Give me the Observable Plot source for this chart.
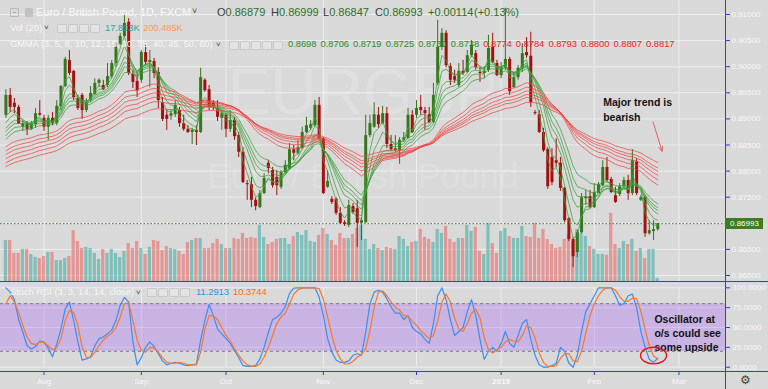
<!DOCTYPE html>
<html>
<head>
<meta charset="utf-8">
<script src="https://cdn.jsdelivr.net/npm/d3@7"></script>
<script src="https://cdn.jsdelivr.net/npm/@observablehq/plot@0.6"></script>
<style>
html,body{margin:0;padding:0;background:#d9d9d9;}
#chart{position:relative;width:768px;height:389px;background:#d9d9d9;overflow:hidden;font-family:"Liberation Sans",Arial,sans-serif;}
.t{position:absolute;white-space:nowrap;line-height:1;}
.ic{position:absolute;width:9px;height:9px;background:#e3e3e3;border:1px solid #c9c9c9;box-sizing:border-box;border-radius:1px;}
.sep{position:absolute;background:#3636ee;}
</style>
</head>
<body>
<div id="chart"></div>
<script>
// ---------------- DATA (daily bars, index 0 = 1 Aug 2018) ----------------
const startIndex = -9;
const open = [
0.8907,0.8945,0.8930,0.8922,0.8884,0.8891,0.8880,0.8889,0.8910,
0.8901,0.8884,0.8901,0.8891,0.8924,0.8962,0.9012,0.8991,0.8939,0.8945,
0.8916,0.8935,0.8947,0.8968,0.8964,0.8964,0.8981,0.9006,0.9043,0.9058,
0.9085,0.8985,0.8972,0.8974,0.9027,0.9008,0.9010,0.8989,0.8931,0.8907,
0.8905,0.8908,0.8916,0.8891,0.8880,0.8874,0.8878,0.8874,0.8974,0.8956,
0.8930,0.8920,0.8901,0.8907,0.8880,0.8897,0.8868,0.8836,0.8776,0.8774,
0.8744,0.8730,0.8757,0.8815,0.8801,0.8788,0.8769,0.8797,0.8805,0.8841,
0.8834,0.8843,0.8874,0.8882,0.8887,0.8926,0.8862,0.8769,0.8746,0.8746,
0.8719,0.8701,0.8696,0.8732,0.8728,0.8700,0.8701,0.8868,0.8884,0.8907,
0.8891,0.8910,0.8851,0.8839,0.8839,0.8859,0.8862,0.8907,0.8907,0.8922,
0.8916,0.8908,0.8893,0.8968,0.9037,0.9064,0.9000,0.8981,0.8964,0.8991,
0.8989,0.9021,0.9025,0.8989,0.8987,0.8993,0.9037,0.9006,0.8983,0.8997,
0.9014,0.8960,0.8979,0.8997,0.9027,0.9020,0.8912,0.8908,0.8874,0.8841,
0.8826,0.8820,0.8815,0.8767,0.8709,0.8669,0.8644,0.8682,0.8747,0.8751,
0.8730,0.8757,0.8772,0.8807,0.8784,0.8753,0.8755,0.8770,0.8782,0.8757,
0.8818,0.8744,0.8749,0.8680,0.8684,0.86879];
const high = [
0.8956,0.8958,0.8939,0.8926,0.8897,0.8895,0.8895,0.8920,0.8935,
0.8907,0.8907,0.8912,0.8935,0.8964,0.9018,0.9031,0.8993,0.8945,0.8949,
0.8939,0.8962,0.8977,0.8977,0.8974,0.9006,0.9012,0.9044,0.9064,0.9098,
0.9092,0.8993,0.8987,0.9031,0.9041,0.9031,0.9016,0.8998,0.8941,0.8916,
0.8916,0.8935,0.8922,0.8907,0.8887,0.8882,0.8887,0.8997,0.8977,0.8964,
0.8935,0.8935,0.8916,0.8910,0.8916,0.8903,0.8874,0.8845,0.8782,0.8788,
0.8749,0.8763,0.8795,0.8820,0.8807,0.8801,0.8801,0.8820,0.8853,0.8849,
0.8859,0.8884,0.8903,0.8897,0.8935,0.8941,0.8864,0.8801,0.8751,0.8749,
0.8730,0.8705,0.8744,0.8738,0.8744,0.8711,0.8907,0.8907,0.8931,0.8922,
0.8924,0.8922,0.8868,0.8868,0.8864,0.8874,0.8920,0.8916,0.8935,0.8945,
0.8922,0.8922,0.8968,0.9089,0.9073,0.9069,0.9006,0.8993,0.9006,0.9012,
0.9031,0.9050,0.9031,0.8998,0.9000,0.9060,0.9064,0.9012,0.9008,0.9112,
0.9018,0.8989,0.9002,0.9044,0.9056,0.9066,0.8916,0.8916,0.8882,0.8845,
0.8843,0.8862,0.8826,0.8769,0.8711,0.8673,0.8686,0.8757,0.8763,0.8763,
0.8776,0.8778,0.8820,0.8826,0.8788,0.8769,0.8776,0.8788,0.8792,0.8841,
0.8824,0.8753,0.8753,0.8705,0.8705,0.86999];
const low = [
0.8901,0.8912,0.8910,0.8889,0.8876,0.8868,0.8878,0.8882,0.8905,
0.8876,0.8859,0.8887,0.8887,0.8916,0.8960,0.8983,0.8935,0.8916,0.8899,
0.8912,0.8931,0.8945,0.8960,0.8954,0.8960,0.8977,0.8998,0.9041,0.9056,
0.8983,0.8958,0.8941,0.8968,0.9002,0.8960,0.8977,0.8920,0.8895,0.8878,
0.8897,0.8903,0.8884,0.8876,0.8872,0.8851,0.8849,0.8872,0.8951,0.8916,
0.8916,0.8895,0.8878,0.8864,0.8874,0.8859,0.8826,0.8776,0.8744,0.8730,
0.8724,0.8728,0.8755,0.8795,0.8767,0.8753,0.8765,0.8795,0.8801,0.8820,
0.8830,0.8841,0.8872,0.8878,0.8884,0.8859,0.8755,0.8767,0.8736,0.8715,
0.8698,0.8694,0.8692,0.8717,0.8654,0.8667,0.8700,0.8864,0.8882,0.8882,
0.8889,0.8843,0.8838,0.8836,0.8813,0.8855,0.8861,0.8872,0.8901,0.8907,
0.8878,0.8891,0.8891,0.8964,0.9031,0.8998,0.8964,0.8968,0.8960,0.8983,
0.8987,0.9018,0.8993,0.8970,0.8977,0.8989,0.9006,0.8981,0.8977,0.8993,
0.8945,0.8958,0.8974,0.8989,0.9016,0.8922,0.8907,0.8872,0.8836,0.8765,
0.8772,0.8807,0.8761,0.8701,0.8665,0.8615,0.8634,0.8680,0.8734,0.8728,
0.8728,0.8757,0.8770,0.8778,0.8757,0.8738,0.8751,0.8767,0.8744,0.8753,
0.8753,0.8742,0.8673,0.8677,0.8667,0.86847];
const close = [
0.8945,0.8922,0.8922,0.8891,0.8891,0.8880,0.8891,0.8910,0.8907,
0.8884,0.8901,0.8891,0.8924,0.8962,0.9014,0.8987,0.8941,0.8920,0.8916,
0.8931,0.8949,0.8968,0.8974,0.8956,0.8981,0.9006,0.9037,0.9058,0.9083,
0.8987,0.8970,0.8954,0.9027,0.9008,0.9012,0.8987,0.8935,0.8899,0.8899,
0.8910,0.8926,0.8891,0.8880,0.8874,0.8878,0.8874,0.8979,0.8954,0.8922,
0.8922,0.8903,0.8910,0.8880,0.8897,0.8866,0.8836,0.8778,0.8774,0.8744,
0.8732,0.8757,0.8786,0.8805,0.8772,0.8772,0.8797,0.8811,0.8841,0.8834,
0.8845,0.8874,0.8887,0.8889,0.8926,0.8862,0.8757,0.8780,0.8740,0.8719,
0.8700,0.8698,0.8734,0.8721,0.8700,0.8705,0.8868,0.8891,0.8908,0.8889,
0.8910,0.8851,0.8841,0.8843,0.8859,0.8864,0.8907,0.8874,0.8920,0.8916,
0.8910,0.8893,0.8945,0.9037,0.9064,0.9002,0.8974,0.8974,0.8991,0.8987,
0.9021,0.9041,0.8998,0.8987,0.8991,0.9035,0.9008,0.8983,0.8998,0.9014,
0.8952,0.8979,0.8997,0.9025,0.9021,0.8931,0.8910,0.8874,0.8839,0.8770,
0.8778,0.8815,0.8767,0.8705,0.8669,0.8636,0.8682,0.8749,0.8751,0.8730,
0.8759,0.8774,0.8807,0.8782,0.8759,0.8740,0.8770,0.8782,0.8757,0.8820,
0.8757,0.8749,0.8680,0.8686,0.8688,0.86993];
// volume in thousands
const volume = [
189,189,131,131,149,149,126,113,108,
117,135,135,99,99,108,117,234,185,153,
158,153,131,104,149,131,149,131,113,140,
176,153,185,153,126,158,189,185,144,162,
153,149,140,126,180,189,198,198,153,153,
176,194,171,153,153,198,194,221,198,203,
198,257,203,171,180,194,198,198,171,207,
225,212,234,185,180,212,243,216,189,167,
221,198,198,216,243,257,194,149,171,153,
144,158,153,149,207,194,162,180,185,239,
203,194,180,239,221,252,194,180,198,198,
257,230,248,140,126,266,176,131,230,243,
207,198,198,252,207,203,266,198,239,194,
171,153,158,194,216,185,239,221,207,162,
149,126,126,122,311,171,153,185,171,194,
140,153,108,149,149,17.893];
const stochK = [
100,94.5,85,60,44,27,23,26,33,
31.5,24,13,29,48,73.5,82,59,31.5,9,
10.5,13,27,36,38,42,47,59,78,88,
82,31.5,3,12,25,32,26,17,8,3,
5,6,5,3,2,3,4,34,59,79,
65,48,42,36,30,21,12,2,1,1,
2,10.5,25,44,60,63,68,76.5,93,99.6,
100,100,100,100,100,88,65,36,19,9,
6,6,8,15,17,15,44,80,94.5,97,
94.5,86,75.6,68,68,60,65,50,45,42,
35,30,55,90,100,85,60,40,45,50,
70,85,65,35,10,20,25,20,30,45,
30,25,40,55,60,35,15,3,0,0,
2,5,25,20,5,0,15,45,70,80,
90,100,100,100,100,90,78,80,90,92,
75,45,25,10,6,11.2913];
const stochD = [
80,90,82,69,52.5,38,30,28.5,31.5,
31.5,27,22,25,36,59,71,69,52.5,25,
12.6,12,19,27,34,39,43,50,63,80,
81,59,34,21,19,25,24,19,12,6,
5,5,6,5,3,3,3,19,48,65,
65,60,50,40,33,23,15,8,3,1,
1,4,12.6,25,40,55,63,68,80,92,
97.5,99.6,100,100,100,99,86,63,40,21,
10.5,4,4,7.5,12.6,16,23,46,75.6,94.5,
96,90,82,75.6,72,65,64,58,53,46,
41,36,40,58,82,92,82,62,48,45,
55,68,73,62,37,22,18,22,25,32,
35,33,32,40,52,50,37,18,6,1,
1,2,11,17,17,8,7,20,43,65,
80,90,97,100,100,97,89,83,83,87,
86,71,48,27,14,10.3744];
const gmmaPeriods = [3,5,8,10,12,15,30,35,40,45,50,60];
const gmmaStart = [0.8905,0.8893,0.8882,0.8876,0.8868,0.8861,0.8847,0.8839,0.8832,0.8824,0.8816,0.8809];
const gmmaLegend = ["0.8698","0.8706","0.8719","0.8725","0.8730","0.8738","0.8774","0.8784","0.8793","0.8800","0.8807","0.8817"];
const priceTicks = [0.86,0.865,0.87,0.875,0.88,0.885,0.89,0.895,0.90,0.905,0.91];
const stochTicks = [0,25,50,75,100];
const stochBands = [20,80];
const monthIdx = [0,23,43,66,88,108,130,150];
const monthLabels = ["Aug","Sep","Oct","Nov","Dec","2019","Feb","Mar"];
const header = {title:"Euro / British Pound, 1D, FXCM", o:"0.86879", h:"0.86999", l:"0.86847", c:"0.86993", chg:"+0.00114", pct:"(+0.13%)"};
const volLegend = ["17.893K","200.485K"];
const stochLegend = ["11.2913","10.3744"];
const notes = {
  trend:{x:132.1, y:0.8919, text:"Major trend is\nbearish"},
  arrow:{x1:143.9, y1:0.8894, x2:146.0, y2:0.8838},
  osc:{x:144.2, y:43.7, text:"Oscillator at\no/s could see\nsome upside"},
  ring:{x:144.0, y:14.7}
};

// ---------------- BUILD ----------------
const bars = open.map((o,k)=>({i:startIndex+k, open:o, high:high[k], low:low[k], close:close[k], vol:volume[k], k:stochK[k], d:stochD[k]}));
const gmma = [];
gmmaPeriods.forEach((n,j)=>{
  let e = gmmaStart[j]; const a = 2/(n+1);
  bars.forEach((b,k)=>{ if(k>0) e = e + a*(b.close-e); gmma.push({i:b.i, v:e, n}); });
});
const FONT = '"Liberation Sans", Arial, sans-serif';
const W = 768, PR = 43;
const xDomain = [-10.28, 161.0];
const yDomain = [0.858659, 0.912682];
const GRID = "#ededed", BLUE = "#3636ee", AXT = "#f8f8f8";
const UP = "#38761d", DN = "#a50f0f";
const AXF = 8;
const candleColor = d => d.close >= d.open ? UP : DN;
const sty = top => ({position:"absolute", left:"0px", top:top+"px", background:"transparent", overflow:"visible", fontFamily:FONT});
const chart = document.getElementById("chart");

const bgPlot = Plot.plot({
  width:W, height:282, marginLeft:0, marginRight:PR, marginTop:0, marginBottom:0,
  x:{domain:xDomain, axis:null}, y:{domain:yDomain, axis:null}, style:sty(0),
  marks:[
    Plot.ruleY(priceTicks, {stroke:GRID}),
    Plot.ruleX(monthIdx, {stroke:GRID}),
    Plot.text(["EURGBP"], {text:d=>d, frameAnchor:"top", dy:93, lineAnchor:"middle", fontSize:64, fill:"#ffffff", fillOpacity:0.16}),
    Plot.text(["Euro / British Pound"], {text:d=>d, frameAnchor:"top", dy:176, lineAnchor:"middle", fontSize:35, fill:"#ffffff", fillOpacity:0.16}),
    Plot.axisY({anchor:"right", ticks:priceTicks, tickSize:4, tickFormat:()=>"", color:BLUE}),
    Plot.axisY({anchor:"right", ticks:priceTicks, tickSize:0, tickPadding:6, tickFormat:d3.format(".5f"), color:AXT, fontSize:AXF})
  ]
});
chart.appendChild(bgPlot);

const volPlot = Plot.plot({
  width:W, height:282, marginLeft:0, marginRight:PR, marginTop:0, marginBottom:0,
  x:{domain:xDomain, axis:null}, y:{domain:[0,1269], axis:null}, color:{type:"identity"}, style:sty(0),
  marks:[
    Plot.rect(bars, {x1:d=>d.i-0.38, x2:d=>d.i+0.38, y1:0, y2:"vol", fill:d=>d.close>=d.open ? "rgba(38,166,154,0.5)" : "rgba(239,83,80,0.5)"})
  ]
});
chart.appendChild(volPlot);

const ellipse = {draw(ctx){ const rx=13, ry=8.3, k=0.5523;
  ctx.moveTo(rx,0); ctx.bezierCurveTo(rx,ry*k,rx*k,ry,0,ry); ctx.bezierCurveTo(-rx*k,ry,-rx,ry*k,-rx,0);
  ctx.bezierCurveTo(-rx,-ry*k,-rx*k,-ry,0,-ry); ctx.bezierCurveTo(rx*k,-ry,rx,-ry*k,rx,0); ctx.closePath(); }};

const pricePlot = Plot.plot({
  width:W, height:282, marginLeft:0, marginRight:PR, marginTop:0, marginBottom:0,
  x:{domain:xDomain, axis:null}, y:{domain:yDomain, axis:null}, color:{type:"identity"}, style:sty(0),
  marks:[
    Plot.ruleY([close[close.length-1]], {stroke:"#3d7d22", strokeDasharray:"1.5,2"}),
    Plot.ruleX(bars, {x:"i", y1:"low", y2:"high", stroke:candleColor, strokeWidth:1}),
    Plot.ruleX(bars, {x:"i", y1:"open", y2:"close", stroke:candleColor, strokeWidth:3}),
    Plot.line(gmma, {x:"i", y:"v", z:"n", stroke:d=>d.n<=15 ? "rgba(60,160,60,0.75)" : "rgba(240,70,70,0.75)", strokeWidth:1}),
    Plot.text([notes.trend], {x:"x", y:"y", text:"text", textAnchor:"start", lineAnchor:"middle", lineHeight:1.45, fontSize:10.5, fontWeight:"bold", fill:"#111"}),
    Plot.arrow([notes.arrow], {x1:"x1", y1:"y1", x2:"x2", y2:"y2", stroke:"#ee5c5c", strokeWidth:1, headLength:7, headAngle:45})
  ]
});
chart.appendChild(pricePlot);

const stochPlot = Plot.plot({
  width:W, height:89, marginLeft:0, marginRight:PR, marginTop:5.3, marginBottom:4.3,
  x:{domain:xDomain, axis:null}, y:{domain:[0,100], axis:null}, style:sty(282),
  marks:[
    Plot.ruleY(stochTicks, {stroke:GRID}),
    Plot.ruleX(monthIdx, {stroke:GRID}),
    Plot.rect([stochBands], {y1:d=>d[0], y2:d=>d[1], fill:"#9a4dff", fillOpacity:0.27}),
    Plot.ruleY(stochBands, {stroke:"#7c7c7c", strokeDasharray:"3,3"}),
    Plot.line(bars, {x:"i", y:"k", stroke:"#3d8ef0", strokeWidth:1.2}),
    Plot.line(bars, {x:"i", y:"d", stroke:"#f5792a", strokeWidth:1.2}),
    Plot.axisY({anchor:"right", ticks:stochTicks, tickSize:4, tickFormat:()=>"", color:BLUE}),
    Plot.axisY({anchor:"right", ticks:stochTicks, tickSize:0, tickPadding:7, tickFormat:d3.format(".4f"), color:AXT, fontSize:AXF}),
    Plot.text([notes.osc], {x:"x", y:"y", text:"text", textAnchor:"start", lineAnchor:"middle", lineHeight:1.3, fontSize:10.5, fontWeight:"bold", fill:"#111"}),
    Plot.dot([notes.ring], {x:"x", y:"y", symbol:ellipse, stroke:"#e01414", fill:"none", strokeWidth:1.3})
  ]
});
chart.appendChild(stochPlot);

const months = monthIdx.map((i,k)=>({i, label:monthLabels[k]}));
const axisPlot = Plot.plot({
  width:W, height:18, marginLeft:0, marginRight:PR, marginTop:0, marginBottom:0,
  x:{domain:xDomain, axis:null}, style:sty(371),
  marks:[
    Plot.ruleX(monthIdx, {stroke:BLUE, insetBottom:14}),
    Plot.text(months.filter(d=>d.label!=="2019"), {x:"i", text:"label", frameAnchor:"middle", dy:1, fontSize:AXF, fill:AXT}),
    Plot.text(months.filter(d=>d.label==="2019"), {x:"i", text:"label", frameAnchor:"middle", dy:1, fontSize:AXF, fontWeight:"bold", fill:AXT})
  ]
});
chart.appendChild(axisPlot);

// ---------------- HTML overlays ----------------
function txt(x, cy, s, size, color, extra){
  const d = document.createElement("div"); d.className="t"; d.textContent=s;
  d.style.left=x+"px"; d.style.top=(cy-size*0.5)+"px"; d.style.fontSize=size+"px"; d.style.color=color;
  if(extra) Object.assign(d.style, extra); chart.appendChild(d); return d;
}
function box(x, y, w, h, css){ const d=document.createElement("div"); d.className=css||"ic"; d.style.left=x+"px"; d.style.top=y+"px"; if(w) d.style.width=w+"px"; if(h) d.style.height=h+"px"; chart.appendChild(d); return d;}
// separators
box(725,0,1,389,"sep"); box(0,281,768,1,"sep"); box(0,371,768,1,"sep");
// last price label
const ly = pricePlot.scale("y").apply(close[close.length-1]);
const lab = document.createElement("div");
Object.assign(lab.style,{position:"absolute", left:"725px", top:(ly-5.5)+"px", width:"38px", height:"11px", background:"#3d7d1d", color:"#fff", fontSize:AXF+"px", lineHeight:"11px", paddingLeft:"5px", boxSizing:"border-box"});
lab.textContent = header.c; chart.appendChild(lab);
// header line 1
const i1 = box(10,8,9,9); i1.style.background="transparent"; i1.style.border="1px solid #b8b8b8";
const mdash = document.createElement("div"); Object.assign(mdash.style,{position:"absolute",left:"2px",top:"3px",width:"3px",height:"1px",background:"#a8a8a8"}); i1.appendChild(mdash);
const i2 = box(25,8,8,9); i2.style.background="#c2c2c2"; i2.style.border="none";
txt(36,12.2,header.title,11,"#f7f7f7");
txt(192,11.5,"˅",9,"#444");
const VG = "#2f6e22", LG = "#3a3a3a";
[["O",header.o,217],["H",header.h,271],["L",header.l,323],["C",header.c,375]].forEach(([k,v,x])=>{
  const d = txt(x,12.2,"",11,LG); d.innerHTML = k+'<span style="color:'+VG+'">'+v+'</span>';
});
txt(428,12.2,header.chg,11,VG); txt(474,12.2,header.pct,11,VG);
// header line 2
txt(10,28.3,"Vol (20)",9.3,"#f7f7f7"); txt(44,28,"˅",8,"#444");
[57,68,79,90].forEach(x=>box(x,24,10,9));
txt(105,28.3,volLegend[0],9.3,"#2aa699"); txt(143,28.3,volLegend[1],9.3,"#ff9850");
// header line 3
txt(10,45,"GMMA (3, 5, 8, 10, 12, 15, 30, 35, 40, 45, 50, 60)",9.3,"#f7f7f7"); txt(216,44.7,"˅",8,"#444");
[229,240,251,262,273].forEach(x=>box(x,40.5,10,9));
gmmaLegend.forEach((v,k)=>txt(288+32.55*k,45,v,9.3,k<6?"#2b8a2b":"#ee2222"));
// stoch legend
txt(10,292.8,"Stoch RSI (3, 3, 14, 14, close)",9.3,"#f7f7f7"); txt(136,292.5,"˅",8,"#444");
[147,158,169,180].forEach(x=>box(x,288.3,10,9));
txt(196,292.8,stochLegend[0],9.3,"#2196f3"); txt(233,292.8,stochLegend[1],9.3,"#ff6d00");
// gear
txt(740,380,"⚙",12,"#444");
</script>
</body>
</html>
